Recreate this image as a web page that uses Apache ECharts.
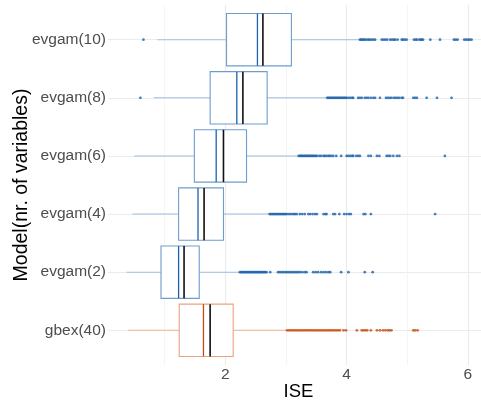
<!DOCTYPE html>
<html><head><meta charset="utf-8">
<script src="https://cdn.jsdelivr.net/npm/echarts@6/dist/echarts.min.js"></script>
<style>html,body{margin:0;padding:0;background:#fff}#c{width:481px;height:402px}</style>
</head><body><div id="c"></div>
<script>
// categories bottom -> top
var categories = ['gbex(40)','evgam(2)','evgam(4)','evgam(6)','evgam(8)','evgam(10)'];
var whiskerLow  = [0.40, 0.37, 0.47, 0.50, 0.82, 0.88];
var q1          = [1.24, 0.94, 1.23, 1.49, 1.75, 2.02];
var median      = [1.64, 1.23, 1.55, 1.85, 2.19, 2.53];
var blackLine   = [1.75, 1.32, 1.65, 1.97, 2.29, 2.62];
var q3          = [2.13, 1.57, 1.97, 2.35, 2.69, 3.09];
var whiskerHigh = [3.01, 2.23, 2.72, 3.20, 3.67, 4.21];
var xMajorTicks = [2, 4, 6];
var xMinorTicks = [1, 3, 5];

var outGbex40 = [3.02,3.05,3.08,3.11,3.14,3.17,3.20,3.23,3.26,3.29,3.32,3.35,3.38,3.41,3.44,3.47,3.50,3.53,3.56,3.59,3.62,3.65,3.68,3.71,3.74,3.77,3.80,3.83,3.86,3.89,3.95,3.99,4.17,4.25,4.28,4.31,4.34,4.40,4.50,4.55,4.60,4.64,4.68,4.71,4.74,5.10,5.13,5.17];
var outEvgam2 = [2.24,2.26,2.28,2.30,2.32,2.34,2.36,2.38,2.40,2.42,2.44,2.46,2.48,2.50,2.52,2.54,2.56,2.58,2.60,2.62,2.64,2.66,2.68,2.74,2.87,2.90,2.93,2.96,2.99,3.02,3.05,3.08,3.11,3.14,3.17,3.20,3.23,3.27,3.31,3.34,3.45,3.49,3.53,3.58,3.62,3.66,3.70,3.73,3.91,4.03,4.30,4.43];
var outEvgam4 = [2.73,2.75,2.77,2.79,2.81,2.83,2.85,2.87,2.89,2.91,2.93,2.95,2.97,2.99,3.01,3.04,3.07,3.10,3.13,3.15,3.18,3.23,3.27,3.31,3.37,3.40,3.44,3.48,3.51,3.62,3.65,3.67,3.78,3.81,3.88,3.96,4.00,4.04,4.07,4.28,4.31,4.40,5.46];
var outEvgam6 = [3.21,3.23,3.25,3.27,3.29,3.31,3.33,3.35,3.37,3.39,3.41,3.43,3.45,3.47,3.49,3.51,3.55,3.58,3.62,3.64,3.67,3.70,3.72,3.75,3.78,3.83,3.91,4.00,4.03,4.06,4.09,4.11,4.16,4.19,4.22,4.36,4.40,4.50,4.54,4.66,4.69,4.72,4.77,4.83,4.87,5.62];
var outEvgam8 = [0.60,3.68,3.70,3.72,3.74,3.76,3.78,3.80,3.82,3.84,3.86,3.88,3.90,3.92,3.94,3.96,3.98,4.00,4.03,4.06,4.09,4.11,4.19,4.22,4.25,4.30,4.33,4.36,4.40,4.44,4.47,4.55,4.65,4.68,4.71,4.74,4.78,4.81,4.84,4.87,4.91,4.93,5.10,5.13,5.16,5.32,5.49,5.73];
var outEvgam10 = [0.65,4.22,4.24,4.26,4.28,4.30,4.33,4.36,4.38,4.41,4.44,4.47,4.58,4.61,4.64,4.67,4.72,4.75,4.78,4.80,4.84,4.91,4.93,4.96,4.99,5.11,5.14,5.16,5.20,5.22,5.24,5.26,5.38,5.54,5.77,5.80,5.83,5.94,5.97,6.00,6.03,6.06];
var outliers = [outGbex40, outEvgam2, outEvgam4, outEvgam6, outEvgam8, outEvgam10];

var palette = {
  blue:   {dark:'#1b62ad', box:'#6d9dcd', whisk:'#a0bfe0', med:'#1b62ad'},
  orange: {dark:'#c64b10', box:'#eaa17f', whisk:'#efb397', med:'#c64b10'}
};
function pal(i){ return i === 0 ? palette.orange : palette.blue; }

var boxData = categories.map(function(c, i){
  return [i + 1, whiskerLow[i], q1[i], median[i], blackLine[i], q3[i], whiskerHigh[i]];
});
var outBlue = [], outOrange = [];
outliers.forEach(function(arr, i){
  arr.forEach(function(v){ (i === 0 ? outOrange : outBlue).push([v, i + 1]); });
});

var FONT = "'Liberation Sans', Arial, sans-serif";
var chart = echarts.init(document.getElementById('c'), null, {renderer:'canvas'});
var half = 0.45;
chart.setOption({
  animation: false,
  backgroundColor: '#fff',
  grid: {left: 108, right: 0, top: 4.8, bottom: 36.8, containLabel: false, outerBoundsMode: 'none'},
  xAxis: [{
    type: 'value', min: 0.066, max: 6.216, position: 'bottom',
    name: 'ISE', nameLocation: 'middle', nameGap: 17, nameMoveOverlap: false,
    nameTextStyle: {fontSize: 18.5, color: '#000', fontFamily: FONT, padding: [0,0,0,8], verticalAlign: 'top'},
    axisLine: {show: false},
    axisTick: {show: false, customValues: xMajorTicks},
    axisLabel: {customValues: xMajorTicks, color: '#4d4d4d', fontSize: 15.5, fontFamily: FONT, margin: 2},
    splitLine: {show: true, lineStyle: {color: '#ebebeb', width: 1.1}}
  }, {
    type: 'value', min: 0.066, max: 6.216, position: 'bottom',
    axisLine: {show: false},
    axisTick: {show: false, customValues: xMinorTicks},
    axisLabel: {show: false, customValues: xMinorTicks},
    splitLine: {show: true, lineStyle: {color: '#f0f0f0', width: 0.7}}
  }],
  yAxis: {
    type: 'value', min: 0.4, max: 6.6,
    name: 'Model(nr. of variables)', nameLocation: 'middle', nameGap: 76, nameRotate: 90, nameMoveOverlap: false,
    nameTextStyle: {fontSize: 19.5, color: '#000', fontFamily: FONT},
    axisLine: {show: false},
    axisTick: {show: false, customValues: [1,2,3,4,5,6]},
    axisLabel: {customValues: [1,2,3,4,5,6], color: '#4d4d4d', fontSize: 15.5, fontFamily: FONT, margin: 2,
      formatter: function(v){ return categories[Math.round(v) - 1]; }},
    splitLine: {show: true, lineStyle: {color: '#ebebeb', width: 1.1}}
  },
  series: [{
    type: 'custom',
    data: boxData,
    z: 2,
    renderItem: function(params, api){
      var i = params.dataIndex;
      var p = pal(i);
      var pos = api.value(0);
      var wl = api.coord([api.value(1), pos]);
      var a = api.coord([api.value(2), pos + half]);
      var b = api.coord([api.value(5), pos - half]);
      var m1 = api.coord([api.value(3), pos + half]);
      var m2 = api.coord([api.value(3), pos - half]);
      var k1 = api.coord([api.value(4), pos + half]);
      var k2 = api.coord([api.value(4), pos - half]);
      var q1c = api.coord([api.value(2), pos]);
      var q3c = api.coord([api.value(5), pos]);
      var wh = api.coord([api.value(6), pos]);
      return {type: 'group', children: [
        {type: 'line', shape: {x1: wl[0], y1: wl[1], x2: q1c[0], y2: q1c[1]}, style: {stroke: p.whisk, lineWidth: 1.1}},
        {type: 'line', shape: {x1: q3c[0], y1: q3c[1], x2: wh[0], y2: wh[1]}, style: {stroke: p.whisk, lineWidth: 1.1}},
        {type: 'rect', shape: {x: a[0], y: a[1], width: b[0] - a[0], height: b[1] - a[1]}, style: {fill: '#fff', stroke: p.box, lineWidth: 1.1}},
        {type: 'line', shape: {x1: m1[0], y1: m1[1], x2: m2[0], y2: m2[1]}, style: {stroke: p.med, lineWidth: 1.3}},
        {type: 'line', shape: {x1: k1[0], y1: k1[1], x2: k2[0], y2: k2[1]}, style: {stroke: '#111', lineWidth: 1.6}}
      ]};
    }
  }, {
    type: 'scatter', data: outBlue, symbol: 'circle', symbolSize: 2.8, z: 3,
    itemStyle: {color: palette.blue.dark}
  }, {
    type: 'scatter', data: outOrange, symbol: 'circle', symbolSize: 2.8, z: 3,
    itemStyle: {color: palette.orange.dark}
  }]
});
</script></body></html>
